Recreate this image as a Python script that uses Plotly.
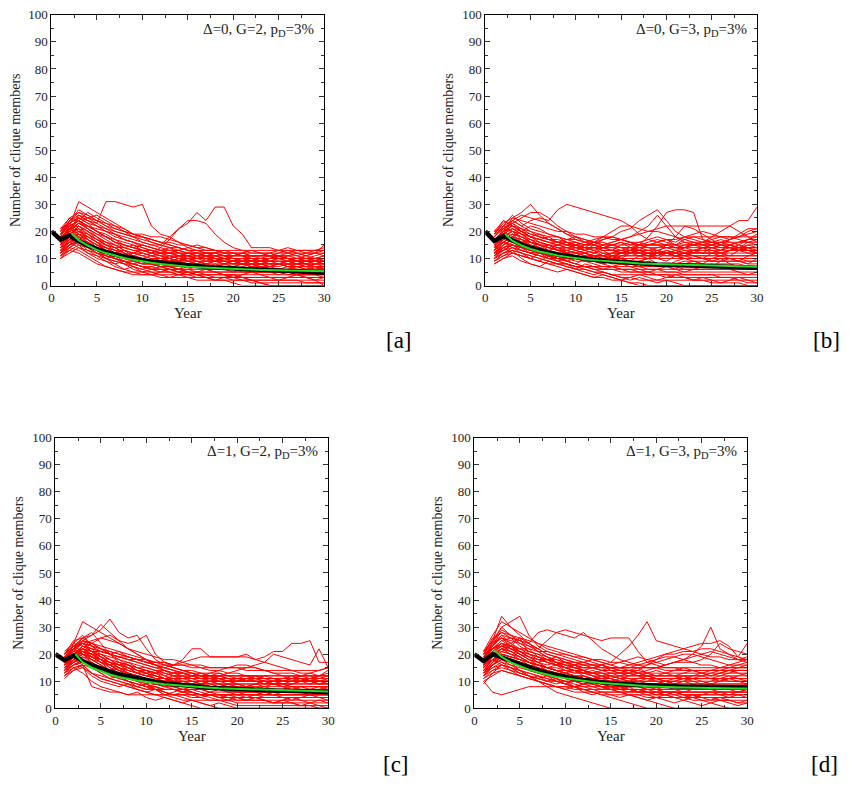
import plotly.graph_objects as go

# ---------------- data ----------------
years_mean = list(range(0, 31))
years_runs = list(range(1, 31))
years_fit = [2.2] + list(range(3, 31))

panel_labels = ["[a]", "[b]", "[c]", "[d]"]
panel_texts = ["Δ=0, G=2, p<sub>D</sub>=3%", "Δ=0, G=3, p<sub>D</sub>=3%",
               "Δ=1, G=2, p<sub>D</sub>=3%", "Δ=1, G=3, p<sub>D</sub>=3%"]
x_ticks = [0, 5, 10, 15, 20, 25, 30]
y_ticks = [0, 10, 20, 30, 40, 50, 60, 70, 80, 90, 100]

mean_a = [20,17,18.5,16.4,14.8,13.5,12.4,11.5,10.7,10.0,9.4,8.9,8.5,8.1,7.7,7.4,7.1,6.9,6.7,6.5,6.3,6.1,5.9,5.8,5.6,5.5,5.3,5.2,5.0,4.9,4.7]
fit_a = [19.3,16.8,14.8,13.2,12.0,11.0,10.2,9.5,8.9,8.4,8.0,7.6,7.3,7.0,6.8,6.6,6.4,6.3,6.1,6.0,5.9,5.8,5.7,5.6,5.55,5.5,5.4,5.35,5.3]
mean_b = [20,16.5,18.3,16.6,15.2,14.0,13.0,12.2,11.5,10.9,10.4,9.9,9.5,9.2,8.9,8.6,8.4,8.2,8.0,7.8,7.7,7.6,7.5,7.4,7.3,7.2,7.1,7.0,6.9,6.8,6.6]
fit_b = [19.0,16.5,14.8,13.5,12.6,11.8,11.1,10.6,10.1,9.7,9.4,9.1,8.8,8.6,8.4,8.2,8.1,7.9,7.8,7.7,7.6,7.5,7.4,7.3,7.3,7.2,7.1,7.1,7.0]
mean_c = [20,17.8,19.5,17.5,16.0,14.7,13.6,12.6,11.8,11.0,10.4,9.8,9.3,8.9,8.5,8.2,7.9,7.6,7.4,7.2,7.0,6.9,6.8,6.7,6.6,6.5,6.4,6.3,6.2,6.1,6.0]
fit_c = [20.0,17.0,15.0,13.6,12.5,11.6,10.9,10.3,9.8,9.3,8.9,8.6,8.3,8.0,7.8,7.6,7.4,7.3,7.1,7.0,6.9,6.8,6.7,6.6,6.5,6.4,6.4,6.3,6.2]
mean_d = [20,17.5,20.0,18.8,17.5,16.2,15.0,14.0,13.1,12.3,11.6,11.0,10.5,10.0,9.6,9.3,9.0,8.8,8.6,8.4,8.3,8.2,8.1,8.0,8.0,7.9,7.9,7.8,7.8,7.8,7.8]
fit_d = [21.5,19.0,17.0,15.5,14.3,13.3,12.4,11.7,11.1,10.6,10.1,9.7,9.4,9.1,8.8,8.6,8.4,8.2,8.0,7.9,7.8,7.7,7.6,7.5,7.5,7.4,7.4,7.3,7.3]

runs_a = [
 [15,22,31,29,27,25,23,21,19,18,16,15,14,13,12,12,11,10,10,9,9,8,8,9,10,9,8,8,7,7],
 [18,24,26,24,23,31,31,30,29,30,22,19,18,16,14,13,12,12,11,10,10,9,9,8,8,8,7,7,8,8],
 [12,18,22,20,18,16,15,13,12,11,12,14,17,21,23,27,24,29,29,22,19,14,14,14,13,12,11,10,10,9],
 [20,25,27,26,24,22,20,19,18,17,16,15,18,21,24,24,23,19,16,14,13,12,12,12,11,10,9,9,10,11],
 [10,14,17,16,14,12,10,9,8,7,7,6,6,5,5,4,4,3,3,2,2,1,1,0,0,0,0,0,0,0],
 [16,20,23,21,19,17,15,13,12,11,10,10,9,9,8,8,7,7,6,6,6,5,5,5,5,4,4,4,4,3],
 [14,17,19,17,15,13,12,10,9,8,8,7,7,6,6,6,6,6,6,6,6,6,6,6,6,6,6,6,6,6],
 [19,22,24,27,25,23,22,20,18,16,15,14,13,13,12,12,11,11,10,10,9,9,9,10,11,12,13,13,13,13],
 [11,13,12,10,8,7,6,5,5,5,5,5,5,5,5,5,5,5,5,5,5,5,5,5,5,5,5,5,5,5],
 [17,21,22,20,18,16,14,12,11,10,9,8,7,6,5,4,3,2,2,1,0,0,0,0,0,0,0,0,0,0],
 [13,16,20,22,20,19,17,16,15,14,13,12,12,11,11,10,10,10,10,10,10,10,10,10,10,10,10,10,10,10],
 [21,23,25,23,22,20,19,18,17,16,15,15,14,14,13,13,13,13,12,12,12,11,11,11,10,10,9,9,9,8],
 [15,19,21,18,16,14,12,11,10,9,8,7,7,7,7,7,7,7,7,7,8,8,8,8,8,8,8,8,8,8],
 [12,15,16,14,12,10,9,8,8,7,6,6,5,4,4,3,3,3,3,3,3,2,2,2,2,2,2,1,1,1],
 [18,20,23,25,26,24,22,21,19,18,17,16,15,14,13,13,12,12,11,11,11,11,11,11,11,11,10,10,10,10],
 [14,18,19,17,15,13,11,10,9,8,8,8,9,10,11,12,12,12,12,12,12,12,12,12,12,12,12,12,12,12],
 [16,19,22,20,17,15,13,11,10,9,8,7,6,6,5,5,4,4,4,4,3,3,3,3,3,3,3,3,3,3],
 [20,24,28,26,24,22,21,20,19,19,18,18,17,16,15,14,13,13,12,12,11,11,11,12,13,14,13,12,12,11],
 [10,12,14,13,12,11,10,9,9,8,8,8,8,8,8,8,8,8,8,8,8,8,8,8,8,7,7,6,6,6],
 [13,17,18,16,14,13,12,11,10,10,9,9,9,8,8,7,7,7,6,6,6,6,5,5,5,5,4,4,4,4],
 [19,21,23,22,21,20,18,17,16,15,14,13,12,12,11,10,10,9,9,8,8,7,7,6,6,5,4,3,2,0],
 [17,22,24,22,20,18,16,15,14,13,13,12,12,11,11,11,11,11,11,11,11,11,11,11,11,11,11,12,13,14],
 [12,14,13,11,9,7,6,5,4,4,4,4,4,4,4,4,4,4,4,4,4,4,4,4,4,4,4,4,4,4],
 [15,18,20,19,17,16,15,14,13,12,11,10,10,9,9,9,9,9,9,9,9,9,9,9,9,9,9,9,9,9],
 [21,25,24,22,20,18,17,15,14,13,12,11,10,9,8,7,6,5,4,3,2,2,1,1,1,1,1,1,1,1],
 [16,20,26,25,23,21,19,17,16,15,14,13,13,12,12,11,11,11,11,10,10,10,10,10,10,10,10,9,9,9],
 [11,15,17,15,13,11,10,9,8,7,6,6,6,6,7,8,9,10,10,10,9,9,8,8,8,7,7,7,7,7],
 [18,23,25,24,22,20,19,17,16,14,13,12,12,11,10,10,9,9,8,8,8,8,7,7,7,8,8,9,9,9],
 [14,16,18,15,13,12,11,11,10,10,9,9,8,8,7,7,7,6,6,6,5,5,5,5,5,6,6,6,5,5],
 [20,23,26,24,22,21,20,19,18,18,17,16,16,15,15,14,14,13,13,13,13,13,13,13,13,13,13,13,13,13],
 [13,16,18,17,15,14,13,13,12,12,11,11,11,10,10,10,10,10,10,10,10,11,11,11,11,10,10,10,11,12],
 [16,18,17,15,13,11,10,9,8,7,6,5,5,4,3,2,2,2,2,2,2,2,2,2,2,2,2,2,2,2],
 [19,24,27,25,24,23,21,20,19,18,17,16,15,14,13,12,11,10,9,9,9,9,9,9,9,9,9,9,8,8],
 [12,15,19,18,16,15,14,14,13,13,12,12,11,11,11,10,10,10,9,9,9,9,9,9,9,8,8,8,8,7],
 [17,20,21,19,17,15,14,12,11,10,9,8,7,6,6,5,5,5,5,5,5,5,5,5,5,5,5,6,6,6],
 [15,21,24,22,20,18,16,15,14,13,13,12,12,12,12,12,12,12,11,11,11,10,10,10,10,10,9,8,7,6],
 [13,17,15,12,10,9,8,9,7,6,7,8,7,6,8,9,8,7,8,9,8,7,6,7,8,9,8,7,6,7],
 [17,20,18,14,12,10,11,9,8,9,10,8,9,10,9,8,10,11,10,9,8,9,10,9,8,7,8,9,10,9],
 [11,14,16,13,11,9,7,6,7,5,4,5,6,5,4,5,6,5,4,3,4,5,4,3,2,3,4,3,2,3],
 [19,23,20,17,15,14,12,13,11,10,11,12,10,11,12,11,10,9,10,11,12,11,10,11,12,13,12,11,12,13],
 [14,18,22,19,16,13,11,10,9,10,8,7,8,9,10,11,12,11,10,9,10,9,8,9,10,9,8,7,8,9],
 [16,21,25,23,20,18,16,14,15,13,12,13,14,12,11,10,11,12,13,12,11,10,9,10,11,10,9,8,9,10],
 [12,16,14,12,11,10,9,8,6,5,6,7,6,5,6,7,8,7,6,5,6,7,6,5,4,5,6,5,4,5],
 [18,19,21,17,14,12,10,8,7,6,5,4,3,4,5,4,3,2,3,4,3,2,1,0,0,0,0,0,0,0],
 [15,20,23,21,19,18,16,15,14,15,14,13,12,13,14,15,14,13,12,11,12,13,12,11,10,11,12,11,10,11],
 [10,13,15,14,12,11,10,11,10,9,8,9,10,11,10,9,8,9,8,7,8,9,8,7,8,9,10,11,12,15],
 [20,22,19,16,14,13,12,11,12,13,12,11,10,9,10,9,8,9,10,9,8,7,8,7,6,7,6,5,6,5],
 [13,15,17,16,13,10,8,6,5,4,4,3,3,3,3,3,3,3,3,3,3,3,3,3,3,3,3,3,3,3],
 [17,22,24,21,18,15,14,12,11,10,9,10,11,10,9,10,11,10,9,8,9,10,9,10,11,10,9,10,9,8],
 [14,19,20,18,16,14,13,12,11,12,11,10,9,10,9,8,7,8,7,6,7,8,7,6,5,6,7,6,7,6],
]

runs_b = [
 [14,20,25,27,30,26,23,21,19,18,17,16,15,15,14,14,13,13,12,12,12,12,12,12,12,12,12,12,12,12],
 [18,22,24,22,24,25,24,28,30,29,28,27,26,25,24,22,19,17,16,15,14,14,15,16,17,18,18,17,16,15],
 [10,13,15,14,13,12,11,10,10,9,9,9,9,8,8,8,9,10,12,15,18,22,21,19,17,15,14,13,13,13],
 [20,24,22,20,19,18,17,16,16,15,14,14,13,13,13,12,12,12,12,12,11,11,11,11,11,11,11,11,11,11],
 [12,15,17,16,14,13,12,12,12,13,14,16,18,20,22,22,21,20,20,19,18,17,16,15,15,16,17,19,21,21],
 [8,10,12,11,10,9,8,7,6,5,4,3,3,2,2,1,1,0,0,0,0,0,0,0,0,0,0,0,0,0],
 [16,19,21,20,18,17,16,15,14,13,12,11,10,10,9,9,8,8,7,7,7,6,6,6,6,6,6,6,6,6],
 [15,18,23,25,27,27,25,22,20,18,17,16,15,15,14,13,13,12,12,11,11,10,10,10,10,10,10,10,9,9],
 [11,14,16,15,14,13,12,12,11,11,10,10,10,10,10,10,10,10,10,10,10,10,10,10,10,10,10,10,10,10],
 [19,21,20,18,16,15,14,13,13,14,15,16,17,18,20,21,24,26,28,24,20,18,17,16,15,14,14,13,12,12],
 [13,17,19,18,16,15,14,13,12,11,10,9,8,7,6,5,5,4,4,3,3,3,3,3,3,3,3,3,3,3],
 [17,20,22,21,20,19,18,18,17,17,16,16,16,15,15,15,15,15,15,15,15,15,15,15,15,15,15,16,17,17],
 [10,12,13,12,11,10,9,8,8,7,7,6,6,6,5,5,5,5,5,5,5,5,5,5,5,5,5,5,5,5],
 [14,16,18,17,16,15,14,13,13,12,12,11,11,11,11,11,11,11,11,12,13,14,15,16,18,20,22,24,24,29],
 [20,22,26,23,21,20,19,18,17,16,15,15,14,14,13,13,13,12,12,12,12,12,12,12,12,12,13,13,14,14],
 [9,11,12,11,10,9,8,8,8,7,7,7,7,7,7,7,7,7,7,7,7,7,7,7,7,7,7,7,7,7],
 [16,19,24,22,20,18,17,16,15,14,13,12,11,10,9,8,7,6,6,5,5,4,4,4,4,3,3,2,2,2],
 [12,14,15,13,12,11,10,10,10,10,10,11,11,12,12,12,13,13,13,14,14,15,15,14,14,13,13,13,13,13],
 [18,21,23,21,19,18,17,17,16,16,15,15,15,16,17,18,19,20,21,22,22,22,22,22,22,22,22,20,18,16],
 [11,13,14,13,12,11,10,9,8,7,6,5,4,3,2,1,0,0,0,0,0,0,0,0,0,0,0,0,0,0],
 [15,17,19,18,17,16,15,14,14,14,14,14,14,14,14,14,14,14,14,14,14,14,14,14,14,14,14,14,14,14],
 [13,16,18,20,22,21,19,18,16,15,14,13,12,12,12,13,15,18,22,27,28,28,27,17,16,15,15,14,14,14],
 [10,12,14,13,12,12,11,11,10,10,9,9,9,9,8,8,8,8,8,8,8,9,9,9,9,9,9,9,9,9],
 [17,20,21,19,18,17,16,15,14,13,12,11,11,10,10,9,9,8,8,8,8,8,8,8,8,8,8,8,7,7],
 [14,18,20,19,17,15,13,12,11,10,10,10,10,11,12,13,14,15,16,17,17,18,18,18,18,18,18,18,18,18],
 [12,15,17,16,15,14,13,12,11,10,9,8,7,7,6,6,5,5,4,4,3,3,2,2,1,1,1,1,0,0],
 [19,23,25,24,23,22,21,20,20,19,19,18,18,17,17,16,16,15,15,15,15,16,16,16,16,16,16,16,16,16],
 [15,17,16,15,14,13,12,11,10,10,10,10,10,10,11,11,11,11,11,11,11,11,11,11,11,11,11,11,11,11],
 [16,20,22,20,18,16,15,14,13,12,11,11,11,12,13,14,15,15,15,14,13,12,12,12,12,12,13,14,15,15],
 [9,12,13,12,11,10,9,8,7,6,6,5,5,4,4,4,4,4,4,4,4,4,4,4,4,4,4,4,4,4],
 [13,15,17,16,16,15,15,15,15,15,16,17,18,18,17,16,15,14,13,12,11,10,10,10,10,10,10,10,10,10],
 [20,21,24,26,25,24,23,21,19,17,16,15,14,13,12,12,12,12,12,12,12,13,13,13,13,13,14,15,17,19],
 [11,14,15,14,13,12,11,10,9,8,7,7,6,6,6,6,6,6,6,6,6,6,6,6,6,6,6,6,6,6],
 [17,18,20,19,18,17,16,16,15,15,14,14,13,13,12,12,12,12,12,12,11,11,10,10,9,9,9,9,8,8],
 [14,16,18,17,16,15,14,13,12,12,13,14,15,16,17,18,20,22,26,22,18,16,15,15,16,17,16,15,14,13],
 [12,13,15,14,13,12,11,10,9,8,7,6,5,4,3,3,2,2,2,2,2,2,2,2,2,2,2,2,1,1],
 [12,16,14,12,10,9,11,10,9,8,10,11,10,9,11,12,11,10,12,13,12,11,13,14,13,12,11,13,14,12],
 [16,19,17,15,14,16,15,13,14,15,13,12,14,15,16,14,13,15,16,17,15,14,16,15,14,13,15,16,17,18],
 [9,11,13,10,8,7,9,8,7,6,8,7,6,7,8,7,6,5,6,7,6,5,6,7,8,7,6,5,4,5],
 [18,22,20,17,15,14,13,14,12,11,12,13,11,10,12,13,12,11,13,12,11,12,13,14,12,11,13,14,13,12],
 [13,17,21,19,16,14,15,13,12,10,11,9,8,9,10,8,7,9,8,7,6,8,9,8,7,9,10,9,8,10],
 [10,14,12,11,10,12,11,9,10,11,12,10,9,11,12,13,12,11,10,12,13,12,11,10,12,13,15,14,16,17],
 [15,17,19,16,14,12,10,9,8,6,5,4,5,4,3,2,3,2,1,2,1,0,0,0,0,0,0,0,0,0],
 [19,24,22,20,18,19,17,16,17,18,16,15,17,18,17,16,15,16,17,16,15,17,18,17,16,15,17,18,19,20],
 [11,15,17,14,12,11,10,11,9,10,11,9,8,10,9,8,9,10,8,7,9,10,9,8,10,11,10,9,11,12],
 [14,16,15,13,12,13,11,10,12,11,10,12,13,11,10,9,11,12,10,9,11,12,11,10,9,10,8,7,6,7],
 [17,20,18,16,17,15,14,15,16,14,13,15,14,13,15,16,14,13,14,15,14,13,12,14,15,16,15,14,13,12],
 [8,10,11,9,8,7,6,5,6,5,4,3,4,3,2,3,4,3,2,3,4,3,2,3,2,1,2,3,2,1],
 [13,18,16,14,13,14,12,11,13,12,11,10,12,11,10,12,13,12,11,13,12,14,13,12,14,15,14,13,15,14],
 [16,21,23,20,18,17,18,16,15,16,14,13,14,15,16,15,16,17,18,17,16,18,19,20,19,18,17,18,20,21],
]

runs_c = [
 [16,24,32,30,28,26,24,22,20,18,16,15,14,13,12,12,11,11,10,10,10,10,9,9,9,9,9,9,9,9],
 [19,23,26,27,29,33,28,26,27,22,18,16,15,14,13,12,12,12,11,11,11,11,10,10,10,10,10,10,10,10],
 [17,21,25,27,31,28,25,22,20,18,16,14,13,12,11,10,9,8,7,6,5,5,4,4,4,4,4,4,4,4],
 [14,18,22,20,18,16,14,12,10,8,7,6,5,5,4,4,3,3,3,2,2,2,2,2,2,2,2,2,2,2],
 [18,22,24,25,26,25,24,22,21,20,19,18,18,17,16,16,15,15,15,15,15,15,14,14,14,14,14,14,14,15],
 [20,25,26,24,22,20,19,18,17,16,15,15,16,18,22,22,19,19,19,19,20,18,19,21,21,24,24,25,17,17],
 [15,18,20,18,16,14,12,10,9,8,7,6,5,4,3,2,1,0,0,0,0,0,0,0,0,0,0,0,0,0],
 [13,16,17,15,13,11,10,9,8,7,7,7,7,7,7,7,7,7,7,7,7,7,7,7,7,7,7,7,7,7],
 [17,20,23,22,21,20,19,18,17,16,15,14,13,13,12,12,12,11,11,11,11,11,11,11,11,11,11,11,11,11],
 [21,24,23,21,19,17,15,13,12,11,10,9,9,9,9,9,9,9,9,9,9,9,9,9,9,9,10,11,12,13],
 [16,19,21,20,19,18,17,16,15,14,13,12,11,10,9,8,8,7,7,6,6,6,5,5,5,5,5,5,5,5],
 [12,15,16,8,7,6,6,5,5,5,5,5,5,5,5,5,5,5,5,5,5,5,5,5,5,5,5,5,5,5],
 [18,21,25,23,21,20,21,19,18,17,16,15,14,13,12,11,11,12,13,14,15,16,17,20,19,18,17,16,22,15],
 [15,17,19,17,15,14,13,12,11,10,10,10,10,10,10,10,10,10,10,10,10,10,10,10,10,10,10,10,10,10],
 [19,22,24,23,22,21,20,19,18,17,17,17,16,16,16,15,15,15,15,15,14,14,14,13,13,13,12,12,12,12],
 [14,17,18,16,14,12,11,10,9,8,8,7,7,6,6,5,5,4,4,3,3,3,3,2,2,2,1,1,0,0],
 [17,20,22,24,26,27,25,24,25,27,20,17,15,14,13,13,12,12,12,12,12,12,12,12,12,12,12,12,11,11],
 [16,18,20,19,17,16,15,14,13,12,12,11,11,11,11,11,11,11,11,11,11,11,11,11,11,11,12,13,14,15],
 [13,15,16,15,14,13,12,11,10,10,9,9,8,8,8,8,8,8,8,8,8,8,8,8,8,8,8,8,8,8],
 [20,23,24,22,21,20,19,18,18,17,16,16,16,17,18,19,19,19,19,19,19,18,17,16,15,14,13,13,12,12],
 [15,19,23,21,19,17,15,13,11,9,7,5,4,3,3,3,3,3,3,3,3,3,3,3,3,3,3,3,3,3],
 [18,22,25,24,22,20,18,16,14,13,12,11,10,9,8,8,7,7,6,6,6,6,6,6,6,6,6,6,6,6],
 [12,14,15,13,11,10,9,8,7,6,5,4,3,2,1,0,0,0,0,0,0,0,0,0,0,0,0,0,0,0],
 [17,19,21,20,20,19,18,17,16,15,14,13,12,12,12,12,13,14,15,16,16,15,14,13,12,11,11,10,9,9],
 [16,20,22,21,20,18,16,14,13,12,11,11,10,10,10,10,10,10,10,10,10,10,10,9,9,9,9,9,9,9],
 [14,16,17,16,15,14,13,12,11,10,9,8,8,7,7,7,6,6,6,6,6,6,6,6,6,6,6,6,6,6],
 [19,21,22,20,18,17,16,15,14,14,13,13,12,12,11,11,11,10,10,10,10,10,10,10,10,10,10,10,10,10],
 [13,17,20,19,18,17,16,15,14,13,12,11,10,9,8,7,6,5,4,4,4,4,4,4,4,4,4,4,4,4],
 [17,20,22,21,21,20,19,19,18,18,17,17,16,16,15,15,14,14,13,13,12,12,11,11,10,10,10,10,10,10],
 [15,18,19,18,17,15,14,13,12,11,10,9,9,9,9,9,9,9,9,9,9,9,9,9,9,8,8,8,8,8],
 [18,20,21,19,17,16,14,13,12,11,10,9,8,7,6,5,4,3,2,1,1,1,1,1,1,1,1,1,1,1],
 [20,23,25,24,23,22,21,20,19,18,17,16,15,14,14,13,13,13,12,12,12,12,12,12,12,12,12,12,12,12],
 [14,18,21,20,18,16,14,13,12,11,10,10,9,9,8,8,8,7,7,7,7,7,7,7,7,7,7,7,7,7],
 [16,19,20,18,16,14,12,11,10,9,8,7,7,6,6,5,5,5,5,5,5,5,5,5,5,5,5,5,5,5],
 [17,22,24,23,22,21,20,19,18,17,16,15,14,13,12,11,10,10,10,10,10,10,10,10,10,10,10,10,10,10],
 [19,21,20,19,18,17,16,16,15,15,14,14,13,13,13,12,12,12,12,12,12,11,11,11,11,11,11,10,10,10],
 [14,17,15,12,10,9,8,9,7,6,7,5,6,7,6,5,6,7,6,5,4,5,6,5,4,3,4,5,4,3],
 [18,23,21,18,16,14,15,13,12,13,11,10,11,12,10,9,10,11,10,9,8,9,10,9,8,9,10,11,12,14],
 [12,15,13,10,8,7,6,5,6,4,3,4,3,2,3,2,1,2,1,0,0,0,0,0,0,0,0,0,0,0],
 [20,24,27,23,20,18,16,17,15,14,13,14,12,11,12,13,12,11,10,11,12,11,10,9,10,11,10,9,10,11],
 [15,19,22,20,17,14,12,11,10,11,9,8,9,10,9,8,7,8,9,8,7,8,7,6,7,8,7,6,7,8],
 [17,22,26,28,24,20,17,15,13,12,11,10,11,9,8,9,10,9,8,7,8,9,8,7,6,7,8,7,6,5],
 [13,16,18,15,13,11,10,9,8,9,10,9,8,7,8,9,8,7,6,7,8,7,6,5,6,7,6,5,6,7],
 [19,21,24,21,18,15,13,12,11,10,9,8,7,6,7,6,5,4,5,4,3,4,3,2,3,2,1,2,1,0],
 [16,20,23,22,19,17,15,14,13,14,12,11,12,13,12,11,12,13,12,11,10,11,12,11,10,11,12,11,10,9],
 [11,14,16,13,12,11,12,10,9,8,9,10,9,8,9,10,11,10,9,10,11,10,9,10,11,12,11,10,11,12],
 [18,20,22,19,17,16,14,15,13,12,13,11,10,11,10,9,10,9,8,9,8,7,8,9,8,7,6,7,8,7],
 [14,18,16,13,11,10,9,8,7,6,5,5,5,5,5,5,5,5,5,5,5,5,5,5,5,5,5,5,5,5],
 [16,19,21,19,18,16,17,16,14,13,14,12,13,14,13,12,11,12,11,10,11,12,11,10,9,10,11,10,9,10],
 [20,22,20,17,15,13,11,10,8,7,8,6,5,6,5,4,5,4,3,4,3,4,3,2,3,4,3,2,3,2],
]

runs_d = [
 [15,25,34,30,28,26,24,22,21,20,19,18,17,16,15,14,14,13,13,12,12,12,11,11,11,11,11,11,11,11],
 [18,24,30,32,34,27,23,21,20,19,18,17,16,16,15,15,15,16,17,18,19,19,18,17,16,16,15,15,15,15],
 [20,26,28,26,25,24,22,25,28,29,28,27,26,25,26,26,26,21,17,16,15,15,14,14,14,14,14,14,14,14],
 [14,18,21,23,26,24,22,20,19,18,17,16,15,14,13,13,12,12,11,11,11,11,11,11,11,11,11,11,11,11],
 [17,22,24,22,20,18,17,15,14,13,12,12,11,11,11,12,13,14,16,18,20,21,22,23,24,24,25,23,19,24],
 [12,16,18,16,14,12,10,8,6,5,4,3,2,1,0,0,0,0,0,0,0,0,0,0,0,0,0,0,0,0],
 [19,23,26,25,24,23,22,20,19,18,17,17,16,16,17,20,23,27,32,25,24,23,22,21,20,19,19,18,18,18],
 [16,20,22,21,20,19,18,18,17,17,16,16,16,15,15,15,15,15,15,15,16,17,18,20,23,30,22,20,18,17],
 [10,12,14,13,12,11,10,9,8,8,7,7,7,7,7,7,7,7,7,7,7,7,7,7,7,7,7,7,7,7],
 [21,27,32,30,27,24,21,19,17,15,14,13,12,11,10,9,9,8,8,8,8,8,8,8,8,8,8,8,8,8],
 [13,17,20,19,18,17,16,15,14,13,12,11,10,10,9,9,8,8,7,7,6,6,5,5,5,5,5,5,5,5],
 [18,21,23,24,26,20,18,17,16,15,15,15,15,14,14,14,14,14,13,13,13,13,13,13,13,13,13,13,13,13],
 [9,13,16,15,14,13,12,11,10,9,8,7,6,5,4,3,2,1,0,0,0,0,0,0,0,0,0,0,0,0],
 [17,19,20,19,18,17,16,15,15,14,14,13,13,13,13,13,13,13,14,15,16,17,17,17,18,20,24,22,21,20],
 [14,16,18,17,16,15,14,13,12,11,10,9,9,8,8,8,8,8,8,8,8,8,8,8,8,8,8,8,8,8],
 [20,24,27,26,25,24,28,29,28,27,26,28,25,22,20,18,17,16,15,15,14,14,14,14,14,14,14,14,14,14],
 [15,19,22,21,19,17,15,14,13,12,11,10,9,8,7,6,5,5,4,4,4,4,4,4,4,4,4,4,4,4],
 [12,14,15,14,13,12,11,10,10,10,10,10,10,10,10,10,10,10,10,10,10,10,10,10,10,10,10,10,10,10],
 [19,22,25,23,21,19,18,17,16,15,14,14,13,13,12,12,12,12,12,12,12,12,12,12,12,13,14,15,16,17],
 [16,18,19,18,17,16,15,14,13,12,11,10,9,8,7,6,5,4,3,2,1,0,0,0,0,0,0,0,0,0],
 [13,16,18,17,16,15,14,14,13,13,12,12,11,11,11,10,10,10,10,10,10,10,11,12,13,14,15,16,17,18],
 [18,23,29,27,25,23,21,19,17,16,15,14,13,12,11,10,10,9,9,9,9,9,9,9,9,9,9,9,9,9],
 [11,13,14,13,12,11,10,9,8,7,6,6,6,6,6,6,6,6,6,6,6,6,6,6,6,6,6,6,6,6],
 [20,22,24,23,22,21,20,19,18,17,17,16,16,15,15,15,16,17,18,19,20,20,21,21,22,22,21,20,19,18],
 [17,20,21,20,19,17,16,15,14,13,12,11,11,10,10,10,9,9,9,9,9,9,9,9,9,9,9,9,9,9],
 [14,17,19,18,17,16,15,14,13,12,11,11,10,10,9,9,8,8,7,7,6,6,5,5,4,4,3,3,2,2],
 [21,25,28,27,26,25,24,23,22,21,20,19,18,17,16,15,14,13,12,12,12,12,12,12,12,12,12,12,12,12],
 [15,18,20,19,18,17,16,15,14,13,12,11,10,9,8,8,7,7,6,6,6,6,6,6,6,6,6,6,6,6],
 [17,21,23,22,21,20,19,18,18,17,16,15,15,14,14,13,13,12,12,11,11,11,11,11,11,11,11,10,10,10],
 [12,15,17,16,15,14,13,12,11,10,10,9,9,8,8,7,7,6,6,5,5,4,4,3,3,3,3,3,3,3],
 [19,24,26,24,22,20,19,18,17,16,16,15,15,15,15,15,15,15,15,15,15,15,15,15,15,15,15,15,15,15],
 [16,18,20,19,18,17,16,15,14,14,13,13,12,12,12,11,11,11,11,11,11,11,11,11,11,11,12,13,14,14],
 [13,15,16,15,14,13,12,11,10,9,8,7,6,5,5,5,5,5,5,5,5,5,5,5,5,5,5,5,5,5],
 [18,22,24,23,22,22,21,21,20,20,19,19,18,18,17,17,16,16,16,17,18,19,20,20,19,18,17,16,16,16],
 [10,6,5,6,7,8,8,8,8,8,8,8,8,8,8,8,8,8,8,8,8,8,8,8,8,8,8,8,8,8],
 [20,22,23,22,21,20,19,18,17,16,15,14,13,12,11,10,9,8,7,7,7,7,7,7,7,7,7,7,7,7],
 [14,18,16,14,12,11,12,10,9,10,8,9,10,9,8,7,8,9,8,7,8,7,6,7,8,7,6,5,6,7],
 [18,23,27,24,21,19,17,18,16,15,16,14,13,14,15,14,13,12,13,14,13,12,13,14,13,12,13,14,15,16],
 [12,16,19,17,14,12,10,9,8,7,8,6,5,6,5,4,5,4,3,4,3,2,3,2,1,2,1,0,0,0],
 [20,25,30,27,24,22,19,17,16,17,15,14,15,16,14,13,14,15,13,12,13,14,15,14,13,12,13,14,13,12],
 [16,20,23,21,19,17,16,14,13,12,11,12,10,9,10,11,10,9,8,9,10,9,8,7,8,9,8,7,6,7],
 [13,17,21,20,18,16,15,13,12,11,10,9,10,8,7,8,7,6,7,6,5,6,5,4,5,6,5,4,5,4],
 [19,22,25,26,23,21,20,18,19,17,16,17,18,17,16,17,18,19,18,17,16,17,18,19,20,21,20,19,18,19],
 [15,18,17,15,13,12,11,10,11,9,8,9,8,7,8,7,6,7,6,5,6,5,4,5,4,3,4,3,2,3],
 [17,21,24,22,20,18,16,15,14,13,14,12,11,12,13,12,11,10,11,10,9,10,11,10,9,10,11,12,11,10],
 [11,14,16,15,13,12,11,12,10,9,10,11,10,9,10,9,8,9,10,11,10,9,10,11,12,11,10,11,12,13],
 [21,24,26,23,21,19,17,16,17,15,14,13,14,13,12,11,12,13,12,11,10,11,12,11,10,9,10,11,10,9],
 [14,16,19,18,16,14,13,12,11,10,9,8,7,6,6,6,6,6,6,6,6,6,6,6,6,6,6,6,6,6],
 [16,19,22,23,20,18,17,15,16,14,13,14,12,11,12,11,10,11,12,11,10,9,10,9,8,9,8,7,8,9],
 [19,20,22,20,19,17,16,15,14,13,12,11,10,9,8,7,8,6,5,4,5,4,3,4,3,2,3,2,1,2],
]

# ---------------- layout geometry (window pixels) ----------------
W, H = 849, 785
# (left, right, top, bottom) of each plot area in pixels
boxes = [(49, 325, 8, 284), (488, 763, 8, 284), (53, 329, 439, 715), (477, 753, 439, 715)]
label_pos = [(401, 340), (833, 340), (398, 772), (831, 772)]


def px_x(v):
    return v / W


def px_y(v):
    return 1 - v / H


all_runs = [runs_a, runs_b, runs_c, runs_d]
all_means = [mean_a, mean_b, mean_c, mean_d]
all_fits = [fit_a, fit_b, fit_c, fit_d]

FONT = "Liberation Serif, Times New Roman, DejaVu Serif, serif"
fig = go.Figure()
annotations = []

for i in range(4):
    xa = "x" if i == 0 else f"x{i+1}"
    ya = "y" if i == 0 else f"y{i+1}"
    for run in all_runs[i]:
        fig.add_trace(go.Scatter(x=years_runs, y=run, mode="lines", xaxis=xa, yaxis=ya,
                                 line=dict(color="#ff0000", width=1), showlegend=False,
                                 hoverinfo="skip"))
    fig.add_trace(go.Scatter(x=years_mean, y=all_means[i], mode="lines", xaxis=xa, yaxis=ya,
                             line=dict(color="black", width=4.5), showlegend=False))
    fig.add_trace(go.Scatter(x=years_fit, y=all_fits[i], mode="lines", xaxis=xa, yaxis=ya,
                             line=dict(color="#22dd22", width=2), showlegend=False))

    l, r, t, b = boxes[i]
    dx = [px_x(l), px_x(r)]
    dy = [px_y(b), px_y(t)]
    axcommon = dict(showline=True, linecolor="black", linewidth=1, mirror="ticks",
                    ticks="inside", ticklen=5, tickwidth=1, tickcolor="#333",
                    showgrid=False, zeroline=False,
                    tickfont=dict(family=FONT, size=13, color="#222"))
    fig.layout[("xaxis" if i == 0 else f"xaxis{i+1}")] = dict(
        axcommon, domain=dx, anchor=ya, range=[0, 30], tickvals=x_ticks,
        minor=dict(ticks="inside", ticklen=3, tickvals=[2.5, 7.5, 12.5, 17.5, 22.5, 27.5], tickcolor="#333"))
    fig.layout[("yaxis" if i == 0 else f"yaxis{i+1}")] = dict(
        axcommon, domain=dy, anchor=xa, range=[0, 100], tickvals=y_ticks,
        minor=dict(ticks="inside", ticklen=3, tickvals=[5, 15, 25, 35, 45, 55, 65, 75, 85, 95], tickcolor="#333"))

    annotations.append(dict(xref="paper", yref="paper", x=px_x(r - 8), y=px_y(t + 15),
                            xanchor="right", yanchor="middle", showarrow=False,
                            text=panel_texts[i], font=dict(family=FONT, size=15, color="#222")))
    annotations.append(dict(xref="paper", yref="paper", x=px_x(l - 37), y=px_y((t + b) / 2),
                            xanchor="center", yanchor="middle", showarrow=False, textangle=-90,
                            text="Number of clique members", font=dict(family=FONT, size=14, color="#222")))
    annotations.append(dict(xref="paper", yref="paper", x=px_x((l + r) / 2), y=px_y(b + 28),
                            xanchor="center", yanchor="middle", showarrow=False,
                            text="Year", font=dict(family=FONT, size=15, color="#222")))
    annotations.append(dict(xref="paper", yref="paper", x=px_x(label_pos[i][0]), y=px_y(label_pos[i][1]),
                            xanchor="center", yanchor="middle", showarrow=False,
                            text=panel_labels[i], font=dict(family=FONT, size=23, color="black")))

fig.update_layout(width=W, height=H, margin=dict(l=0, r=0, t=0, b=0),
                  paper_bgcolor="white", plot_bgcolor="white", annotations=annotations)

# the figure fills the whole window, so the page body gets no margin
fig.write_html("out.html", config={"displayModeBar": False},
               post_script="document.body.style.margin='0px';")
